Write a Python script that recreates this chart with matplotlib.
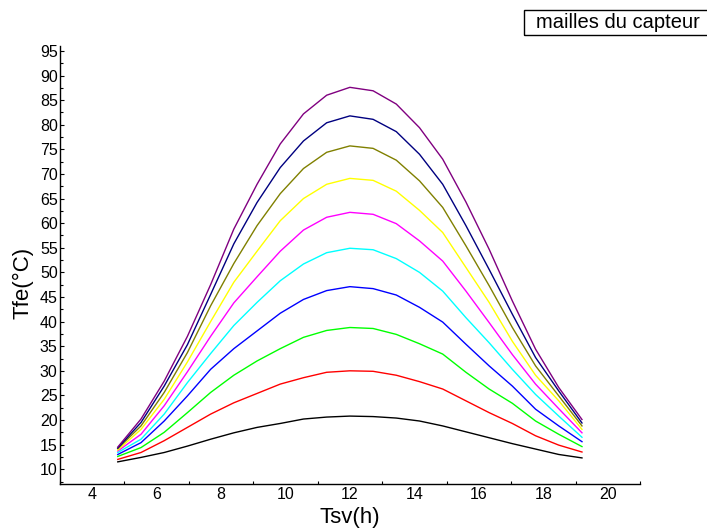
import matplotlib
matplotlib.use("Agg")
import matplotlib.pyplot as plt
from matplotlib.patches import Rectangle
from matplotlib.ticker import MultipleLocator

plt.rcParams['font.family'] = ['Liberation Sans', 'DejaVu Sans']

# Hours (solar time)
tsv = [4.8, 5.52, 6.24, 6.96, 7.68, 8.4, 9.12, 9.84, 10.56, 11.28, 12.0,
       12.72, 13.44, 14.16, 14.88, 15.6, 16.32, 17.04, 17.76, 18.48, 19.2]

maille_1 = [11.5, 12.4, 13.4, 14.7, 16.1, 17.4, 18.5, 19.3, 20.2, 20.6, 20.8,
            20.7, 20.4, 19.8, 18.8, 17.6, 16.4, 15.2, 14.1, 13.0, 12.3]
maille_2 = [12.0, 13.4, 15.8, 18.5, 21.2, 23.5, 25.4, 27.3, 28.6, 29.7, 30.0,
            29.9, 29.1, 27.8, 26.3, 23.9, 21.5, 19.3, 16.8, 14.9, 13.5]
maille_3 = [12.6, 14.4, 17.5, 21.5, 25.6, 29.1, 32.0, 34.5, 36.8, 38.2, 38.8,
            38.6, 37.4, 35.5, 33.4, 29.7, 26.3, 23.4, 19.8, 17.1, 14.6]
maille_4 = [13.0, 15.4, 19.8, 24.9, 30.3, 34.5, 38.1, 41.7, 44.5, 46.3, 47.1,
            46.7, 45.4, 42.9, 39.9, 35.4, 31.0, 26.9, 22.2, 18.8, 15.6]
maille_5 = [13.4, 16.1, 21.2, 27.6, 33.5, 39.2, 43.9, 48.3, 51.7, 54.0, 54.9,
            54.6, 52.8, 50.0, 46.2, 40.8, 35.7, 30.3, 25.2, 20.8, 16.5]
maille_6 = [13.7, 17.1, 22.9, 29.8, 37.0, 43.8, 49.1, 54.3, 58.6, 61.2, 62.2,
            61.8, 59.9, 56.4, 52.3, 46.2, 39.8, 33.3, 27.3, 22.3, 17.4]
maille_7 = [13.9, 18.1, 24.2, 31.8, 40.0, 48.0, 54.3, 60.5, 65.0, 67.9, 69.1,
            68.7, 66.5, 62.6, 58.1, 51.0, 43.9, 36.0, 29.1, 23.9, 18.1]
maille_8 = [14.2, 18.8, 25.6, 33.7, 43.2, 51.8, 59.5, 66.0, 71.1, 74.4, 75.7,
            75.2, 72.8, 68.6, 63.2, 55.4, 47.3, 38.8, 31.0, 24.9, 18.8]
maille_9 = [14.3, 19.5, 26.9, 35.3, 45.5, 55.8, 64.2, 71.3, 76.7, 80.4, 81.8,
            81.1, 78.6, 74.0, 67.9, 59.5, 50.6, 41.5, 32.7, 25.9, 19.4]
maille_10 = [14.5, 20.2, 27.9, 37.0, 47.5, 58.8, 67.9, 76.1, 82.2, 86.0, 87.6,
             86.9, 84.2, 79.4, 73.0, 64.3, 54.7, 44.2, 34.4, 26.6, 20.1]

series = [maille_1, maille_2, maille_3, maille_4, maille_5,
          maille_6, maille_7, maille_8, maille_9, maille_10]
colors = ['#000000', '#FF0000', '#00FF00', '#0000FF', '#00FFFF',
          '#FF00FF', '#FFFF00', '#808000', '#000080', '#800080']

x_ticks = [4, 6, 8, 10, 12, 14, 16, 18, 20]
legend_title = "mailles du capteur"
xlabel = "Tsv(h)"
ylabel = "Tfe(°C)"

W, H = 707, 531
fig = plt.figure(figsize=(W / 100, H / 100), dpi=100)
ax = fig.add_axes([59.75 / W, (H - 484) / H, (640 - 59.75) / W, (484 - 46) / H])

for vals, c in zip(series, colors):
    ax.plot(tsv, vals, color=c, lw=1.0)

ax.set_xlim(3, 21)
ax.set_ylim(7, 96)
ax.set_xticks(x_ticks)
ax.xaxis.set_minor_locator(MultipleLocator(1))
ax.yaxis.set_major_locator(MultipleLocator(5))
ax.yaxis.set_minor_locator(MultipleLocator(2.5))
ax.tick_params(axis='x', which='major', length=0, labelsize=11.5, pad=2)
ax.tick_params(axis='y', which='major', direction='in', length=3, width=0.8,
               labelsize=11.5, pad=1.5)
ax.tick_params(axis='both', which='minor', direction='in', length=2.5, width=0.8)
for s in ['top', 'right']:
    ax.spines[s].set_visible(False)
for s in ['left', 'bottom']:
    ax.spines[s].set_linewidth(1.0)

ax.set_xlabel(xlabel, fontsize=16)
ax.xaxis.set_label_coords(0.5, -0.053)
ax.set_ylabel(ylabel, fontsize=16)
ax.yaxis.set_label_coords(-0.045, 0.46)

# title box at top right (clipped by figure edge)
rect = Rectangle((524 / W, (H - 35) / H), 200 / W, 25 / H, transform=fig.transFigure,
                 fill=False, edgecolor='black', lw=1.0, clip_on=False)
fig.patches.append(rect)
fig.text(536 / W, (H - 22.5) / H, legend_title, fontsize=14.5, va='center', ha='left')

fig.savefig("out.png", dpi=100)
